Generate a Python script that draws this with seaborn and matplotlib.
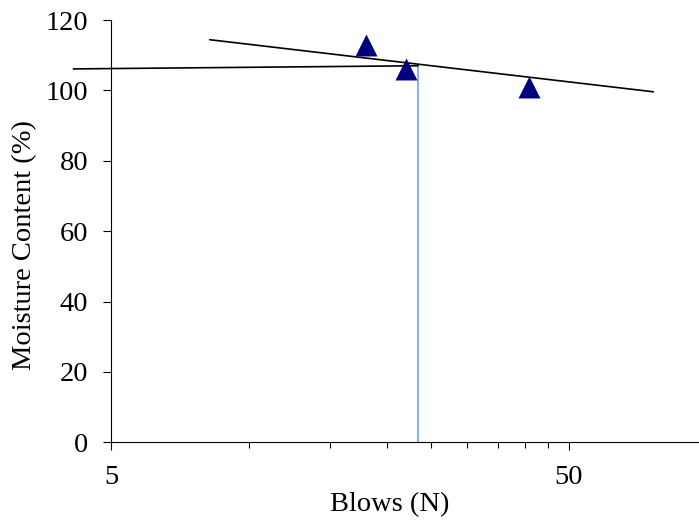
import matplotlib
matplotlib.use("Agg")
import matplotlib.pyplot as plt
import matplotlib.ticker as mticker
import seaborn as sns
import pandas as pd

# ---- data ----
blows = [18, 22, 41]
moisture = [113, 106, 101]

trend_blows = [8.2, 76.5]
trend_moisture = [114.4, 99.6]

ll_h_blows = [4.13, 23.4]
ll_h_moisture = [106.1, 107.0]

ll_v_blows = [23.4, 23.4]
ll_v_moisture = [0, 107.2]

x_major = [5, 50, 500]
x_minor = [10, 15, 20, 25, 30, 35, 40, 45, 100, 150, 200, 250, 300, 350, 400, 450]
y_ticks = [0, 20, 40, 60, 80, 100, 120]

sns.set_style("ticks")
plt.rcParams['font.family'] = ['Liberation Serif', 'DejaVu Serif']

fig = plt.figure(figsize=(6.99, 5.20), dpi=100)
ax = fig.add_axes([111.4 / 699, (520 - 442.3) / 520, (706.6 - 111.4) / 699, (442.3 - 20) / 520])

df_pts = pd.DataFrame({"N": blows, "MC": moisture})
df_trend = pd.DataFrame({"N": trend_blows, "MC": trend_moisture})
df_h = pd.DataFrame({"N": ll_h_blows, "MC": ll_h_moisture})
df_v = pd.DataFrame({"N": ll_v_blows, "MC": ll_v_moisture})

ax.set_xscale("log")
sns.lineplot(data=df_v, x="N", y="MC", ax=ax, color="#7aaee0", linewidth=1.3,
             estimator=None, sort=False, zorder=2)
sns.lineplot(data=df_h, x="N", y="MC", ax=ax, color="black", linewidth=1.2,
             estimator=None, sort=False, zorder=3)
sns.lineplot(data=df_trend, x="N", y="MC", ax=ax, color="black", linewidth=1.2,
             estimator=None, sort=False, zorder=3)
sns.scatterplot(data=df_pts, x="N", y="MC", ax=ax, marker="^", s=250,
                color="#000080", edgecolor="#000080", linewidth=0, zorder=4)

for line in ax.lines:
    line.set_clip_on(False)

ax.set_xlim(5, 100)
ax.set_ylim(0, 120)
ax.xaxis.set_major_locator(mticker.FixedLocator(x_major))
ax.xaxis.set_minor_locator(mticker.FixedLocator(x_minor))
ax.xaxis.set_major_formatter(mticker.FuncFormatter(lambda v, p: f"{v:g}"))
ax.xaxis.set_minor_formatter(mticker.NullFormatter())
ax.yaxis.set_major_locator(mticker.FixedLocator(y_ticks))
ax.set_xlim(5, 100)

for s in ["top", "right"]:
    ax.spines[s].set_visible(False)
for s in ["left", "bottom"]:
    ax.spines[s].set_linewidth(0.8)
    ax.spines[s].set_color("black")
    ax.spines[s].set_clip_on(False)

ax.tick_params(axis="both", which="major", direction="out", length=6, width=0.8,
               colors="black", labelsize=20.5)
ax.tick_params(axis="x", which="major", pad=10)
ax.tick_params(axis="x", which="minor", direction="out", length=4.5, width=0.8, colors="black")
ax.tick_params(axis="y", which="major", pad=10.5)

ax.set_xlabel("Blows (N)", fontsize=20.5, color="black")
ax.set_ylabel("Moisture Content (%)", fontsize=20.5, color="black")
ax.xaxis.set_label_coords(0.468, -0.118)
ax.yaxis.set_label_coords(-0.125, 0.467)

fig.savefig("out.png", dpi=100)
